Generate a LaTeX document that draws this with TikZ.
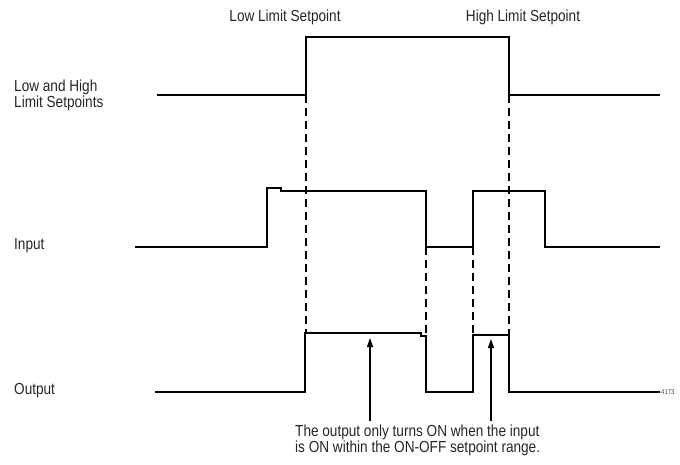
\documentclass[tikz,border=0pt]{standalone}
\usepackage{fontspec}
\setmainfont{Liberation Sans}[FakeStretch=0.85]
\usetikzlibrary{arrows.meta, positioning}

\begin{document}
\begin{tikzpicture}[
    x=1pt, y=-1pt,
    signal/.style={
        line width=1.8pt, line join=miter
    },
    guide/.style={
        dash pattern=on 8pt off 5pt, line width=1.4pt
    },
    caption/.style={
        font=\fontsize{16}{16}\selectfont,
        text=black!85, inner sep=0pt, align=left
    },
    arrow/.style={
        -{Triangle[length=9pt, width=6pt]}, line width=1.4pt
    }
]
\useasboundingbox (0,0) rectangle (680,464);

% Row labels
\node[caption, anchor=west] (setpoints) at (14,95) {Low and High\\Limit Setpoints};
\node[caption, anchor=west] (input) at (14,246) {Input};
\node[caption, anchor=west] (output) at (14,391) {Output};

% Setpoint labels
\node[caption] (lowsp) at (285,17) {Low Limit Setpoint};
\node[caption] (highsp) at (523,17) {High Limit Setpoint};

% Note below the output
\node[caption, anchor=north west] (note) at (295,425)
    {The output only turns ON when the input\\is ON within the ON-OFF setpoint range.};
\node[font=\fontsize{7}{7}\selectfont, text=black!75, anchor=west, inner sep=1pt] (fignum) at (660,392) {4173};

% Setpoint signal
\draw[signal] (157,95) -- (306,95) -- (306,37) -- (509,37) -- (509,95) -- (660,95);

% Input signal
\draw[signal] (135,247) -- (267,247) -- (267,188) -- (281,188) -- (281,191)
    -- (426,191) -- (426,247) -- (473,247) -- (473,191) -- (545,191)
    -- (545,247) -- (660,247);

% Output signal
\draw[signal] (155,392) -- (305,392) -- (305,333) -- (421,333) -- (421,336)
    -- (426,336) -- (426,392) -- (473,392) -- (473,335) -- (509,335)
    -- (509,392) -- (fignum.west);

% Dashed guides
\draw[guide] (306,95) -- (306,333);
\draw[guide] (426,247) -- (426,336);
\draw[guide] (473,247) -- (473,335);
\draw[guide] (509,95) -- (509,335);

% Arrows from the note
\coordinate (onA) at (370,338);
\coordinate (onB) at (491,339);
\draw[arrow] ([yshift=4pt]note.north -| onA) -- (onA);
\draw[arrow] ([yshift=4pt]note.north -| onB) -- (onB);

\end{tikzpicture}
\end{document}
